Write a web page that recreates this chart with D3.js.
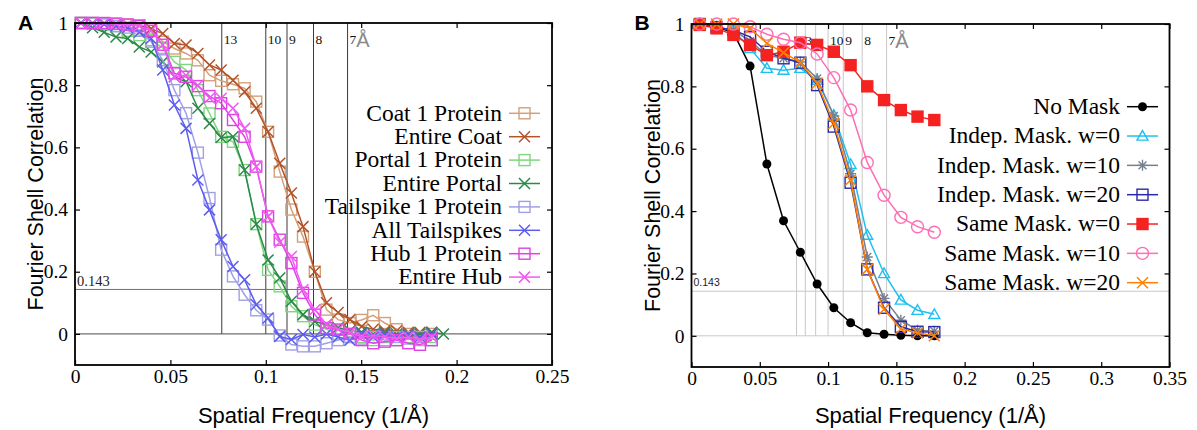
<!DOCTYPE html>
<html><head><meta charset="utf-8">
<script src="https://cdn.jsdelivr.net/npm/d3@7"></script>
<style>body{margin:0;background:#fff}svg{display:block}.tick text{font-family:"Liberation Serif",serif;font-size:19.5px}</style>
</head><body>
<svg id="c" width="1197" height="430"></svg>
<script>
// ---------- Panel A data ----------
const freqA = [0.0031,0.0092,0.0153,0.0215,0.0276,0.0337,0.0399,0.0460,0.0521,0.0582,0.0644,0.0705,0.0766,0.0828,0.0889,0.0950,0.1012,0.1073,0.1134,0.1195,0.1257,0.1318,0.1379,0.1441,0.1502,0.1563,0.1624,0.1686,0.1747,0.1808,0.1870,0.1931];
const coat1Protein = [1.0,1.0,0.998,0.997,0.995,0.993,0.982,0.94,0.918,0.902,0.88,0.832,0.814,0.803,0.79,0.747,0.65,0.522,0.40,0.313,0.20,0.078,0.046,0.035,0.045,0.06,0.035,0.015,0.0,-0.01,0.0];
const entireCoat = [1.0,1.0,0.999,0.997,0.995,0.992,0.982,0.966,0.934,0.929,0.902,0.865,0.849,0.816,0.779,0.726,0.65,0.549,0.453,0.345,0.20,0.10,0.069,0.046,0.024,0.015,0.01,0.01,0.005,0.005,0.005];
const portal1Protein = [1.0,0.998,0.995,0.99,0.975,0.961,0.945,0.92,0.875,0.849,0.784,0.709,0.634,0.618,0.527,0.353,0.206,0.153,0.089,0.057,0.03,0.015,0.0,-0.01,-0.01,-0.02,-0.01,-0.02,-0.01,-0.02,-0.01];
const entirePortal = [1.0,0.985,0.97,0.955,0.95,0.923,0.907,0.875,0.827,0.811,0.726,0.677,0.632,0.634,0.527,0.353,0.238,0.18,0.105,0.062,0.04,0.03,0.02,0.01,0.005,0.0,0.005,0.0,-0.005,0.0,0.005,0.0];
const tailspike1Protein = [1.0,1.0,0.998,0.99,0.985,0.975,0.94,0.88,0.784,0.71,0.583,0.437,0.271,0.185,0.126,0.076,0.046,-0.005,-0.034,-0.04,-0.04,-0.03,-0.02,-0.01,-0.015,-0.01,-0.02,-0.01,-0.015,-0.01,-0.02];
const allTailspikes = [1.0,0.998,0.995,0.99,0.985,0.97,0.95,0.849,0.736,0.661,0.495,0.399,0.303,0.217,0.174,0.094,0.051,-0.008,-0.018,-0.002,-0.01,0.0,-0.01,-0.02,0.0,-0.01,0.0,-0.01,0.0,-0.01,0.0];
const hub1Protein = [1.0,1.0,1.0,0.998,0.995,0.99,0.975,0.93,0.838,0.827,0.797,0.765,0.742,0.688,0.634,0.538,0.378,0.303,0.228,0.132,0.062,0.019,0.014,0.0,-0.02,-0.03,-0.025,-0.02,-0.03,-0.035,-0.02];
const entireHub = [1.0,1.0,1.0,0.998,0.995,0.99,0.975,0.93,0.827,0.832,0.80,0.759,0.758,0.726,0.661,0.538,0.378,0.295,0.249,0.142,0.078,0.03,0.015,0.005,-0.01,-0.005,-0.01,-0.015,-0.01,-0.02,-0.01];
const namesA = ["Coat 1 Protein","Entire Coat","Portal 1 Protein","Entire Portal","Tailspike 1 Protein","All Tailspikes","Hub 1 Protein","Entire Hub"];

// ---------- Panel B data ----------
const freqB = [0.0061,0.0184,0.0307,0.0429,0.0552,0.0674,0.0797,0.0920,0.1042,0.1165,0.1287,0.1410,0.1533,0.1655,0.1778];
const noMask = [0.997,0.991,0.972,0.865,0.551,0.369,0.268,0.166,0.09,0.042,0.01,0.005,0.002,0.0,0.0];
const indepW0 = [1.0,0.99,0.98,0.922,0.858,0.852,0.858,0.82,0.708,0.55,0.323,0.20,0.115,0.082,0.069];
const indepW10 = [1.0,0.99,0.98,0.945,0.90,0.89,0.878,0.825,0.705,0.52,0.253,0.12,0.05,0.018,0.015];
const indepW20 = [1.0,0.99,0.98,0.959,0.911,0.89,0.876,0.804,0.671,0.491,0.213,0.09,0.029,0.013,0.012];
const sameW0 = [0.997,0.986,0.965,0.933,0.90,0.911,0.94,0.933,0.911,0.868,0.80,0.756,0.724,0.703,0.692];
const sameW10 = [1.0,1.0,1.0,0.991,0.967,0.951,0.94,0.904,0.828,0.724,0.556,0.451,0.38,0.35,0.332];
const sameW20 = [1.0,1.0,1.0,0.986,0.938,0.908,0.876,0.81,0.681,0.5,0.213,0.085,0.022,0.01,0.0];
const namesB = ["No Mask","Indep. Mask. w=0","Indep. Mask. w=10","Indep. Mask. w=20","Same Mask. w=0","Same Mask. w=10","Same Mask. w=20"];

// ---------- ticks / reference lines ----------
const xTicksA = [0,0.05,0.1,0.15,0.2,0.25];
const xTicksB = [0,0.05,0.1,0.15,0.2,0.25,0.3,0.35];
const yTicks = [0,0.2,0.4,0.6,0.8,1];
const resA = [13,10,9,8,7];
const resLabelsA = ["13","10","9","8","7"];
const resB = [13,12,11,10,9,8,7];
const resLabelsB = ["13","","","10","9","8","7"];
const fscThreshold = 0.143;
const yTitle = "Fourier Shell Correlation";
const xTitle = "Spatial Frequency (1/\u00C5)";

const svg = d3.select("#c");
svg.append("rect").attr("width",1197).attr("height",430).attr("fill","#fff");

function drawMarker(sel, type, color, s) {
  const h = s/2;
  if (type === "square" || type === "squareFilled") {
    sel.append("rect").attr("x",-h).attr("y",-h).attr("width",s).attr("height",s)
      .attr("fill", type==="squareFilled"?color:"none").attr("stroke",color).attr("stroke-width",1.4);
  } else if (type === "x") {
    sel.append("path").attr("d",`M${-h},${-h}L${h},${h}M${-h},${h}L${h},${-h}`).attr("stroke",color).attr("stroke-width",1.5).attr("fill","none");
  } else if (type === "circleFilled") {
    sel.append("circle").attr("r",h).attr("fill",color);
  } else if (type === "circle") {
    sel.append("circle").attr("r",h).attr("fill","none").attr("stroke",color).attr("stroke-width",1.4);
  } else if (type === "triangle") {
    sel.append("path").attr("d",`M0,${-h}L${h},${h*0.75}L${-h},${h*0.75}Z`).attr("fill","none").attr("stroke",color).attr("stroke-width",1.4);
  } else if (type === "asterisk") {
    const d = h*0.72;
    sel.append("path").attr("d",`M0,${-h}L0,${h}M${-h},0L${h},0M${-d},${-d}L${d},${d}M${-d},${d}L${d},${-d}`).attr("stroke",color).attr("stroke-width",1.4).attr("fill","none");
  }
}

function panel(cfg) {
  const g = svg.append("g");
  const x = d3.scaleLinear().domain(cfg.xDomain).range([cfg.left, cfg.right]);
  const y = d3.scaleLinear().domain([-0.1, 1]).range([cfg.bottom, cfg.top]);

  // reference lines
  cfg.res.forEach((r) => {
    g.append("line").attr("x1",x(1/r)).attr("x2",x(1/r)).attr("y1",y(1)).attr("y2",y(0))
      .attr("stroke",cfg.vColor).attr("stroke-width",1);
  });
  g.append("line").attr("x1",cfg.left).attr("x2",cfg.right).attr("y1",y(fscThreshold)).attr("y2",y(fscThreshold))
    .attr("stroke",cfg.hColor).attr("stroke-width",1);
  g.append("line").attr("x1",cfg.left).attr("x2",cfg.right).attr("y1",y(0)).attr("y2",y(0))
    .attr("stroke",cfg.zColor).attr("stroke-width",1);
  g.append("text").attr("x",cfg.left+2).attr("y",y(fscThreshold)-cfg.thrOff)
    .attr("font-family",cfg.thrFont).attr("font-size",cfg.thrSize).attr("fill","#222").text(String(fscThreshold));
  cfg.res.forEach((r,i) => {
    const lab = cfg.resLabels[i];
    if (!lab) return;
    const t = g.append("text").attr("x",x(1/r)+2).attr("y",cfg.top+21)
      .attr("font-family","Liberation Serif").attr("font-size",13.5).attr("fill","#111").text(lab);
    if (r === 7) {
      t.append("tspan").attr("font-family","Liberation Sans").attr("font-size",20).attr("fill","#8a8a8a").attr("dy",3).text("\u00C5");
    }
  });

  // series
  const line = d3.line().x(d=>x(d[0])).y(d=>y(d[1]));
  cfg.series.forEach(s => {
    const pts = s.values.map((v,i)=>[cfg.freq[i], v]);
    g.append("path").datum(pts).attr("d",line).attr("fill","none").attr("stroke",s.color).attr("stroke-width",1.5);
    g.append("g").selectAll("g").data(pts).join("g")
      .attr("transform",d=>`translate(${x(d[0])},${y(d[1])})`)
      .each(function(){ drawMarker(d3.select(this), s.marker, s.color, s.size); });
  });

  // legend
  cfg.series.forEach((s,i) => {
    const ly = cfg.legTop + i*cfg.legStep;
    g.append("text").attr("x",cfg.legTextX).attr("y",ly).attr("dy","0.31em").attr("text-anchor","end")
      .attr("font-family","Liberation Serif").attr("font-size",23.5).attr("fill","#000").text(s.name);
    g.append("line").attr("x1",cfg.legTextX+7).attr("x2",cfg.legTextX+38).attr("y1",ly).attr("y2",ly)
      .attr("stroke",s.color).attr("stroke-width",1.5);
    const mg = g.append("g").attr("transform",`translate(${cfg.legTextX+22.5},${ly})`);
    drawMarker(mg, s.marker, s.color, s.size);
  });

  // axes
  const styleAx = (a) => {
    a.attr("font-family","Liberation Serif").attr("font-size",19.5);
    a.select(".domain").remove();
    a.selectAll("line").attr("stroke","#000").attr("stroke-width",1.2);
    a.selectAll("text").attr("fill","#000").style("font-family","'Liberation Serif', serif").style("font-size","19.5px");
  };
  g.append("g").attr("transform",`translate(0,${cfg.bottom})`)
    .call(d3.axisBottom(x).tickValues(cfg.xTicks).tickSizeInner(-5).tickSizeOuter(0).tickPadding(4).tickFormat(d=>String(+d.toFixed(2))))
    .call(styleAx);
  g.append("g").attr("transform",`translate(0,${cfg.top})`)
    .call(d3.axisTop(x).tickValues(cfg.xTicks).tickSizeInner(-5).tickSizeOuter(0).tickFormat(""))
    .call(styleAx);
  g.append("g").attr("transform",`translate(${cfg.left},0)`)
    .call(d3.axisLeft(y).tickValues(yTicks).tickSizeInner(-5).tickSizeOuter(0).tickPadding(7).tickFormat(d=>String(+d.toFixed(1))))
    .call(styleAx);
  g.append("g").attr("transform",`translate(${cfg.right},0)`)
    .call(d3.axisRight(y).tickValues(yTicks).tickSizeInner(-5).tickSizeOuter(0).tickFormat(""))
    .call(styleAx);
  g.append("rect").attr("x",cfg.left).attr("y",cfg.top).attr("width",cfg.right-cfg.left).attr("height",cfg.bottom-cfg.top)
    .attr("fill","none").attr("stroke","#000").attr("stroke-width",1.8);

  // titles
  g.append("text").attr("transform",`translate(${cfg.left-32},${(cfg.top+cfg.bottom)/2}) rotate(-90)`)
    .attr("text-anchor","middle").attr("font-family","Liberation Sans").attr("font-size",21.5).text(yTitle);
  g.append("text").attr("x",(cfg.left+cfg.right)/2).attr("y",423).attr("text-anchor","middle")
    .attr("font-family","Liberation Sans").attr("font-size",22).text(xTitle);
  g.append("text").attr("x",cfg.left-57).attr("y",30).attr("font-family","Liberation Sans").attr("font-weight","bold")
    .attr("font-size",21).text(cfg.letter);
}

const valuesA = [coat1Protein, entireCoat, portal1Protein, entirePortal, tailspike1Protein, allTailspikes, hub1Protein, entireHub];
const colorsA = ["#d4a07a","#b4532a","#7fd67f","#2a8a4a","#a0a0e6","#5c5cf0","#e040e6","#f05af0"];
const markersA = ["square","x","square","x","square","x","square","x"];
const seriesA = namesA.map((n,i)=>({name:n, values:valuesA[i], color:colorsA[i], marker:markersA[i], size:11}));

const valuesB = [noMask, indepW0, indepW10, indepW20, sameW0, sameW10, sameW20];
const colorsB = ["#000000","#1ec0f0","#778090","#2a2aa8","#f52222","#ff6eb4","#ff8000"];
const markersB = ["circleFilled","triangle","asterisk","square","squareFilled","circle","x"];
const sizesB = [9,11,11,11,11,12,11];
const seriesB = namesB.map((n,i)=>({name:n, values:valuesB[i], color:colorsB[i], marker:markersB[i], size:sizesB[i]}));

panel({letter:"A", left:75, right:552, top:23, bottom:365, xDomain:[0,0.25], xTicks:xTicksA, freq:freqA,
  series:seriesA, res:resA, resLabels:resLabelsA, vColor:"#3a3a3a", hColor:"#707070", zColor:"#4a4a4a",
  thrFont:"Liberation Serif", thrSize:14.5, thrOff:3, legTop:113.3, legStep:23.4, legTextX:502});
panel({letter:"B", left:691.5, right:1169.5, top:24, bottom:367, xDomain:[0,0.35], xTicks:xTicksB, freq:freqB,
  series:seriesB, res:resB, resLabels:resLabelsB, vColor:"#c8c8c8", hColor:"#c8c8c8", zColor:"#c8c8c8",
  thrFont:"Liberation Sans", thrSize:10.5, thrOff:5.5, legTop:106.7, legStep:29.33, legTextX:1120});
</script>
</body></html>
